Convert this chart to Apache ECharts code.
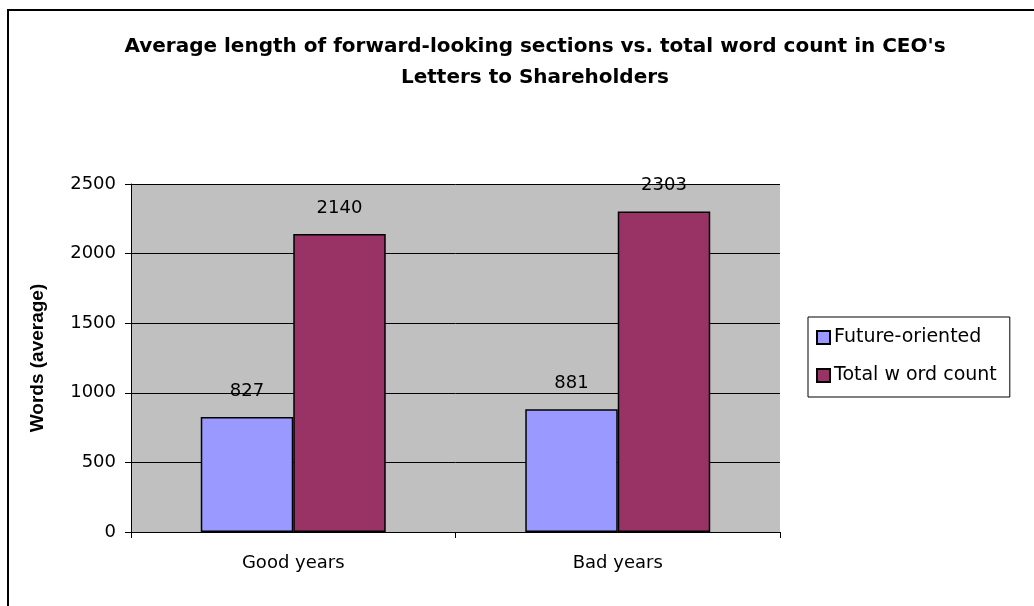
<!DOCTYPE html>
<html>
<head>
<meta charset="utf-8">
<script src="https://cdn.jsdelivr.net/npm/echarts@6/dist/echarts.min.js"></script>
<style>
  html, body { margin: 0; padding: 0; background: #fff; }
  #main { width: 1034px; height: 606px; }
</style>
</head>
<body>
<div id="main"></div>
<script>
const categories = ['Good years', 'Bad years']
const futureOriented = [827, 881]
const totalWordCount = [2140, 2303]
const seriesNames = ['Future-oriented', 'Total w ord count']

const font = '"DejaVu Sans", sans-serif'
const chart = echarts.init(document.getElementById('main'))

const barLabel = {
    show: true,
    position: 'top',
    distance: 17,
    color: '#000',
    fontSize: 18,
    fontFamily: font
}

chart.setOption({
    backgroundColor: '#fff',
    animation: false,
    title: {
        text: "Average length of forward-looking sections vs. total word count in CEO's\nLetters to Shareholders",
        left: 530,
        textAlign: 'center',
        top: 26,
        textStyle: {
            fontFamily: font,
            fontSize: 20,
            fontWeight: 'bold',
            color: '#000',
            lineHeight: 31
        }
    },
    graphic: [
        {
            type: 'polyline',
            shape: { points: [[8, 620], [8, 10], [1040, 10]] },
            style: { fill: null, stroke: '#000', lineWidth: 2 },
            silent: true
        }
    ],
    legend: {
        orient: 'vertical',
        left: 808,
        top: 317,
        padding: [11, 13, 12, 8],
        itemGap: 19,
        itemWidth: 13,
        itemHeight: 13,
        icon: 'rect',
        borderColor: '#000',
        borderWidth: 1,
        backgroundColor: '#fff',
        data: seriesNames,
        textStyle: { fontFamily: font, fontSize: 19, color: '#000', padding: [0, 0, 0, -1] }
    },
    grid: {
        left: 131,
        right: 254,
        top: 184,
        bottom: 74,
        show: true,
        backgroundColor: '#c0c0c0',
        borderWidth: 0
    },
    xAxis: {
        type: 'category',
        data: categories,
        axisLine: { lineStyle: { color: '#000', width: 1 } },
        axisTick: { show: true, length: 6, lineStyle: { color: '#000' } },
        axisLabel: { fontFamily: font, fontSize: 18, color: '#000', margin: 22 }
    },
    yAxis: {
        type: 'value',
        min: 0,
        max: 2500,
        interval: 500,
        name: 'Words (average)',
        nameLocation: 'middle',
        nameGap: 84,
        nameTextStyle: { fontFamily: '"Liberation Sans", Arial, sans-serif', fontSize: 19, fontWeight: 'bold', color: '#000' },
        axisLine: { show: true, lineStyle: { color: '#000', width: 1 } },
        axisTick: { show: true, length: 6, lineStyle: { color: '#000' } },
        axisLabel: { fontFamily: font, fontSize: 18, color: '#000', margin: 15, formatter: v => String(v) },
        splitLine: { show: true, lineStyle: { color: '#000', width: 1 } }
    },
    series: [
        {
            name: seriesNames[0],
            type: 'bar',
            data: futureOriented,
            barGap: '0%',
            barCategoryGap: '43%',
            itemStyle: { color: '#9999ff', borderColor: '#000', borderWidth: 1.5 },
            label: barLabel
        },
        {
            name: seriesNames[1],
            type: 'bar',
            data: totalWordCount,
            itemStyle: { color: '#993366', borderColor: '#000', borderWidth: 1.5 },
            label: barLabel
        }
    ]
})
</script>
</body>
</html>
